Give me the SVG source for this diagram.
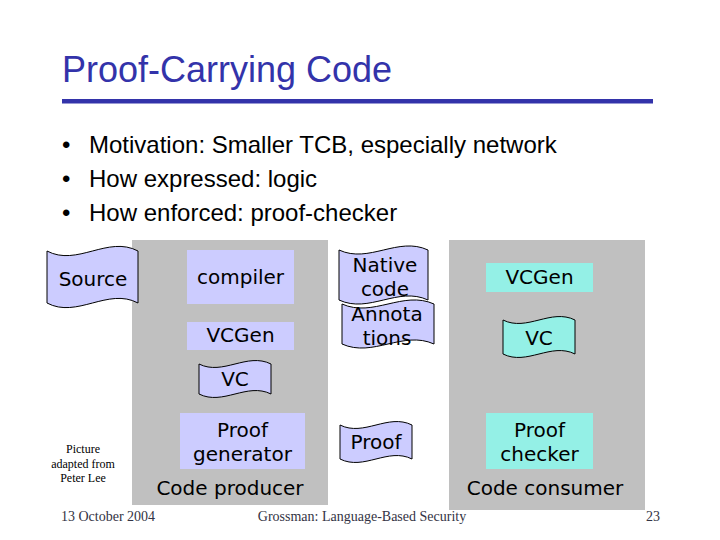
<svg xmlns="http://www.w3.org/2000/svg" width="720" height="540" viewBox="0 0 720 540">
  <style>
    .title { font-family: "Liberation Sans", Arial, sans-serif; font-size: 36px; fill: #3333aa; }
    .bullet { font-family: "Liberation Sans", Arial, sans-serif; font-size: 24px; fill: #000; }
    .lbl { font-family: "DejaVu Sans", Verdana, sans-serif; font-size: 20px; fill: #000; text-anchor: middle; }
    .foot { font-family: "Liberation Serif", "Times New Roman", serif; font-size: 14px; fill: #333344; }
    .note { font-family: "Liberation Serif", "Times New Roman", serif; font-size: 12px; fill: #000; text-anchor: middle; }
    .panel { fill: #c0c0c0; }
    .lav { fill: #ccccff; }
    .cyan { fill: #94f0e6; }
    .doc { stroke: #000; stroke-width: 1; }
  </style>
  <rect width="720" height="540" fill="#ffffff"/>

  <g id="title">
    <text class="title" x="62" y="82">Proof-Carrying Code</text>
    <rect x="62" y="99" width="591" height="4.5" fill="#3333aa"/>
  </g>

  <g id="bullets">
    <text class="bullet" x="62" y="153">•</text>
    <text class="bullet" x="89" y="153">Motivation: Smaller TCB, especially network</text>
    <text class="bullet" x="62" y="187">•</text>
    <text class="bullet" x="89" y="187">How expressed: logic</text>
    <text class="bullet" x="62" y="221">•</text>
    <text class="bullet" x="89" y="221">How enforced: proof-checker</text>
  </g>

  <g id="producer">
    <rect class="panel" x="132" y="240" width="196" height="265"/>
    <text class="lbl" x="230" y="495">Code producer</text>
  </g>
  <g id="consumer">
    <rect class="panel" x="449" y="240" width="196" height="270"/>
    <text class="lbl" x="545" y="495">Code consumer</text>
  </g>

  <g id="source">
    <path class="lav doc" d="M47,251 C77,267 108,235 138,251 L138,303 C108,287 77,319 47,303 Z"/>
    <text class="lbl" x="93" y="286">Source</text>
  </g>

  <g id="compiler">
    <rect class="lav" x="187" y="250" width="107" height="54"/>
    <text class="lbl" x="240.5" y="284">compiler</text>
  </g>

  <g id="vcgen-producer">
    <rect class="lav" x="187" y="322" width="107" height="28"/>
    <text class="lbl" x="240.5" y="342">VCGen</text>
  </g>

  <g id="vc-producer">
    <path class="lav doc" d="M199,364 C223,376 247,352 271,364 L271,394 C247,382 223,406 199,394 Z"/>
    <text class="lbl" x="235" y="386">VC</text>
  </g>

  <g id="proof-generator">
    <rect class="lav" x="180" y="413" width="125" height="56"/>
    <text class="lbl" x="242.5" y="437">Proof</text>
    <text class="lbl" x="242.5" y="461">generator</text>
  </g>

  <g id="native-code">
    <path class="lav doc" d="M339,250 C369,264 398,236 428,250 L428,300 C398,286 369,314 339,300 Z"/>
    <text class="lbl" x="385" y="272">Native</text>
    <text class="lbl" x="385" y="296">code</text>
  </g>

  <g id="annotations">
    <path class="lav doc" d="M342,304 C373,318 403,290 434,304 L434,344 C403,330 373,358 342,344 Z"/>
    <text class="lbl" x="387" y="321">Annota</text>
    <text class="lbl" x="387" y="345">tions</text>
  </g>

  <g id="proof">
    <path class="lav doc" d="M340,425 C364,437 388,413 412,425 L412,459 C388,447 364,471 340,459 Z"/>
    <text class="lbl" x="376" y="449">Proof</text>
  </g>

  <g id="vcgen-consumer">
    <rect class="cyan" x="486" y="263" width="107" height="29"/>
    <text class="lbl" x="539.5" y="284">VCGen</text>
  </g>

  <g id="vc-consumer">
    <path class="cyan doc" d="M503,320 C527,332 551,308 575,320 L575,354 C551,342 527,366 503,354 Z"/>
    <text class="lbl" x="539" y="345">VC</text>
  </g>

  <g id="proof-checker">
    <rect class="cyan" x="486" y="413" width="107" height="56"/>
    <text class="lbl" x="539.5" y="437">Proof</text>
    <text class="lbl" x="539.5" y="461">checker</text>
  </g>

  <g id="connectors"></g>

  <g id="credit">
    <text class="note" x="83" y="453">Picture</text>
    <text class="note" x="83" y="468">adapted from</text>
    <text class="note" x="83" y="482">Peter Lee</text>
  </g>

  <g id="footer">
    <text class="foot" x="108" y="521" text-anchor="middle">13 October 2004</text>
    <text class="foot" x="362" y="521" text-anchor="middle">Grossman: Language-Based Security</text>
    <text class="foot" x="660" y="521" text-anchor="end">23</text>
  </g>
</svg>
